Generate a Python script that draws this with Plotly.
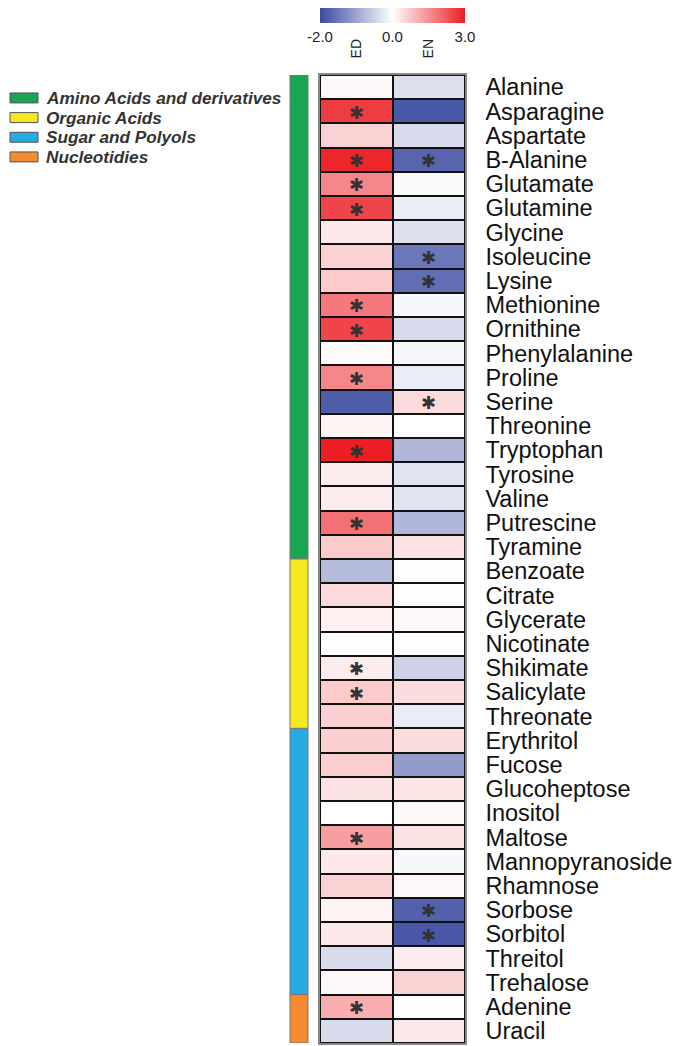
import numpy as np
import plotly.graph_objects as go

# Metabolites, top to bottom
metabolites = [
    "Alanine", "Asparagine", "Aspartate", "B-Alanine", "Glutamate", "Glutamine",
    "Glycine", "Isoleucine", "Lysine", "Methionine", "Ornithine", "Phenylalanine",
    "Proline", "Serine", "Threonine", "Tryptophan", "Tyrosine", "Valine",
    "Putrescine", "Tyramine",
    "Benzoate", "Citrate", "Glycerate", "Nicotinate", "Shikimate", "Salicylate",
    "Threonate",
    "Erythritol", "Fucose", "Glucoheptose", "Inositol", "Maltose",
    "Mannopyranoside", "Rhamnose", "Sorbose", "Sorbitol", "Threitol", "Trehalose",
    "Adenine", "Uracil",
]

conditions = ["ED", "EN"]

# log2 fold changes
ed_values = [
    0.10, 2.60, 0.60, 2.90, 1.60, 2.50, 0.30, 0.60, 0.70, 1.80, 2.50, 0.05,
    1.60, -1.80, 0.15, 3.00, 0.25, 0.25, 1.90, 0.70,
    -0.75, 0.50, 0.20, 0.02, 0.25, 0.70, 0.65,
    0.65, 0.65, 0.40, 0.00, 1.30, 0.30, 0.60, 0.15, 0.30, -0.40, 0.10,
    1.10, -0.40,
]
en_values = [
    -0.35, -1.85, -0.40, -1.70, -0.05, -0.20, -0.35, -1.50, -1.60, -0.08, -0.40, -0.08,
    -0.20, 0.50, 0.00, -0.80, -0.30, -0.30, -0.80, 0.40,
    0.02, 0.02, 0.10, 0.03, -0.50, 0.45, -0.20,
    0.45, -1.10, 0.35, 0.10, 0.40, -0.08, 0.10, -1.75, -1.85, 0.25, 0.60,
    0.00, 0.30,
]

# significance flags
ed_signif = [
    0, 1, 0, 1, 1, 1, 0, 0, 0, 1, 1, 0, 1, 0, 0, 1, 0, 0, 1, 0,
    0, 0, 0, 0, 1, 1, 0,
    0, 0, 0, 0, 1, 0, 0, 0, 0, 0, 0,
    1, 0,
]
en_signif = [
    0, 0, 0, 1, 0, 0, 0, 1, 1, 0, 0, 0, 0, 1, 0, 0, 0, 0, 0, 0,
    0, 0, 0, 0, 0, 0, 0,
    0, 0, 0, 0, 0, 0, 0, 1, 1, 0, 0,
    0, 0,
]

# metabolite classes
class_names = ["Amino Acids and derivatives", "Organic Acids", "Sugar and Polyols", "Nucleotidies"]
class_sizes = [20, 7, 11, 2]
class_colors = ["#1aa551", "#f5e924", "#27aae1", "#f58a2e"]

zmin, zmax = -2.0, 3.0
colorbar_ticks = [-2.0, 0.0, 3.0]

W, H = 682, 1046
PLOT_L, PLOT_R, PLOT_T, PLOT_B = 320, 465, 75, 1045
FONT = "Arial, 'Liberation Sans', sans-serif"

values = np.array([ed_values, en_values]).T  # rows x conditions


# diverging scale: negative side scaled by |zmin|, positive side by zmax
def to_color_pos(v):
    v = np.asarray(v, dtype=float)
    return np.where(v < 0, v / abs(zmin), v / zmax)


n = len(metabolites)
rows = list(range(n))
plot_w = PLOT_R - PLOT_L
plot_h = PLOT_B - PLOT_T

fig = go.Figure()

fig.add_trace(go.Heatmap(
    z=to_color_pos(values),
    x=[0, 1],
    y=rows,
    customdata=values,
    zmin=-1, zmax=1,
    colorscale=[[0.0, "rgb(58,74,160)"], [0.5, "rgb(255,255,255)"], [1.0, "rgb(236,30,36)"]],
    xgap=2, ygap=2,
    hovertemplate="%{customdata:.2f}<extra></extra>",
    colorbar=dict(
        orientation="h",
        x=0.5, xanchor="center",
        y=1 + (PLOT_T - 8) / plot_h, yanchor="top",
        len=plot_w, lenmode="pixels",
        thickness=15,
        outlinewidth=0,
        tickvals=list(to_color_pos(colorbar_ticks)),
        ticktext=[f"{t:.1f}" for t in colorbar_ticks],
        ticks="",
        tickfont=dict(family=FONT, size=15, color="#222"),
        xpad=0, ypad=0,
    ),
))

annotations = []
# significance stars
for col, flags in enumerate([ed_signif, en_signif]):
    for r, f in enumerate(flags):
        if f:
            annotations.append(dict(
                x=col, y=r, xref="x", yref="y", text="✱", showarrow=False,
                font=dict(family="DejaVu Sans", size=18, color="#333"), yshift=-1,
            ))

shapes = []
# class bar beside the heatmap
start = 0
for size, color in zip(class_sizes, class_colors):
    shapes.append(dict(
        type="rect", xref="paper", yref="y",
        x0=(290 - PLOT_L) / plot_w, x1=(308 - PLOT_L) / plot_w,
        y0=start - 0.5, y1=start + size - 0.5,
        fillcolor=color, line=dict(color="#777", width=1), layer="above",
    ))
    start += size

# class legend
for i, (name, color) in enumerate(zip(class_names, class_colors)):
    cy = 98 + i * 19.7
    y_top = 1 - (cy - 5 - PLOT_T) / plot_h
    y_bot = 1 - (cy + 5 - PLOT_T) / plot_h
    shapes.append(dict(
        type="rect", xref="paper", yref="paper",
        x0=(10 - PLOT_L) / plot_w, x1=(38 - PLOT_L) / plot_w,
        y0=y_bot, y1=y_top,
        fillcolor=color, line=dict(color="#555", width=1),
    ))
    annotations.append(dict(
        x=(44 - PLOT_L) / plot_w, y=1 - (cy - PLOT_T) / plot_h,
        xref="paper", yref="paper", xanchor="left", yanchor="middle",
        text=f"<b><i>{name}</i></b>", showarrow=False,
        font=dict(family=FONT, size=17.2, color="#333"),
    ))

fig.update_layout(
    width=W, height=H,
    margin=dict(l=PLOT_L, r=W - PLOT_R, t=PLOT_T, b=H - PLOT_B, pad=0),
    paper_bgcolor="white",
    plot_bgcolor="#111",
    shapes=shapes,
    annotations=annotations,
    showlegend=False,
    xaxis=dict(
        side="top", tickvals=[0, 1], ticktext=conditions, tickangle=-90,
        range=[-0.5, 1.5], showgrid=False, zeroline=False,
        showline=True, mirror=True, linecolor="#888", linewidth=1.5,
        ticks="", ticklabelstandoff=12,
        tickfont=dict(family=FONT, size=14, color="#222"),
    ),
    yaxis=dict(
        side="right", tickvals=rows, ticktext=metabolites,
        range=[n - 0.5, -0.5], showgrid=False, zeroline=False,
        showline=True, mirror=True, linecolor="#888", linewidth=1.5,
        ticks="", ticklabelstandoff=14,
        tickfont=dict(family=FONT, size=23.5, color="#111"),
    ),
)

fig.write_html("out.html")
